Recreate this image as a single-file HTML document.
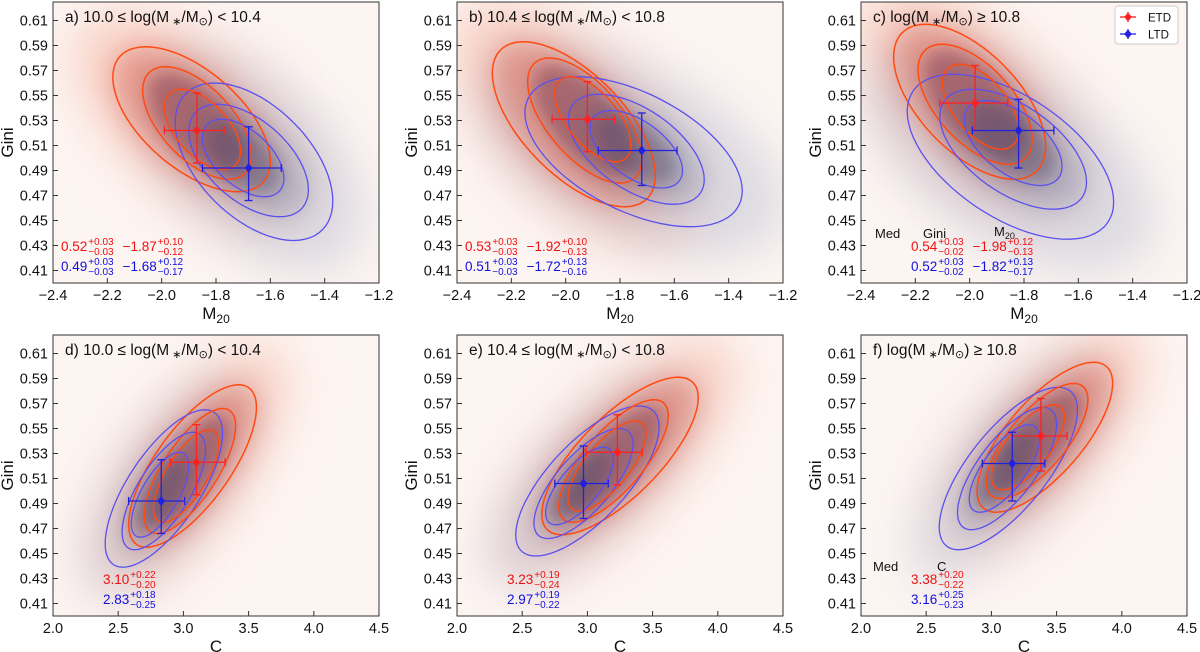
<!DOCTYPE html>
<html><head><meta charset="utf-8"><style>
body{margin:0;background:#fff;}
svg{display:block;font-family:"Liberation Sans","DejaVu Sans",sans-serif;}
</style></head><body>
<svg id="fig" width="1200" height="652" viewBox="0 0 1200 652" xmlns="http://www.w3.org/2000/svg">
<defs>
<filter id="b8" x="-50%" y="-50%" width="200%" height="200%"><feGaussianBlur stdDeviation="8"/></filter>
<filter id="b14" x="-50%" y="-50%" width="200%" height="200%"><feGaussianBlur stdDeviation="14"/></filter>
<filter id="b24" x="-80%" y="-80%" width="260%" height="260%"><feGaussianBlur stdDeviation="24"/></filter>
</defs>
</svg>
<script>
// ---- data ----
const panelLabels=["a) 10.0 ≤ log(M","b) 10.4 ≤ log(M","c) log(M","d) 10.0 ≤ log(M","e) 10.4 ≤ log(M","f) log(M"];
const panelSuffix=[") < 10.4",") < 10.8",") ≥ 10.8",") < 10.4",") < 10.8",") ≥ 10.8"];
const etdX=[-1.87,-1.92,-1.98,3.10,3.23,3.38];
const etdXlo=[0.12,0.13,0.13,0.20,0.24,0.22];
const etdXhi=[0.10,0.10,0.12,0.22,0.19,0.20];
const etdY=[0.522,0.531,0.544,0.523,0.531,0.544];
const etdYlo=[0.026,0.026,0.022,0.026,0.026,0.028];
const etdYhi=[0.030,0.030,0.030,0.030,0.030,0.030];
const ltdX=[-1.68,-1.72,-1.82,2.83,2.97,3.16];
const ltdXlo=[0.17,0.16,0.17,0.25,0.22,0.23];
const ltdXhi=[0.12,0.13,0.13,0.18,0.19,0.25];
const ltdY=[0.492,0.506,0.522,0.492,0.506,0.522];
const ltdYlo=[0.026,0.028,0.030,0.026,0.028,0.030];
const ltdYhi=[0.033,0.030,0.025,0.033,0.030,0.025];
// contours: [cx, cy, rx, ry, rho] for 3 levels
const etdContours=[
 [[-1.89,0.531,0.29,0.058,-0.58],[-1.87,0.528,0.20,0.045,-0.58],[-1.85,0.523,0.14,0.032,-0.55]],
 [[-1.97,0.527,0.30,0.066,-0.62],[-1.93,0.530,0.21,0.050,-0.62],[-1.90,0.531,0.14,0.034,-0.6]],
 [[-2.00,0.545,0.28,0.062,-0.58],[-1.98,0.543,0.21,0.048,-0.58],[-1.96,0.541,0.14,0.034,-0.55]],
 [[3.07,0.520,0.49,0.065,0.72],[3.05,0.516,0.35,0.050,0.72],[3.02,0.512,0.25,0.037,0.7]],
 [[3.25,0.528,0.60,0.063,0.74],[3.20,0.524,0.42,0.049,0.74],[3.15,0.520,0.30,0.036,0.72]],
 [[3.41,0.543,0.52,0.060,0.72],[3.35,0.540,0.39,0.046,0.72],[3.28,0.535,0.28,0.034,0.7]]
];
const ltdContours=[
 [[-1.66,0.497,0.29,0.063,-0.5],[-1.68,0.498,0.22,0.045,-0.52],[-1.70,0.500,0.15,0.031,-0.52]],
 [[-1.75,0.505,0.40,0.060,-0.52],[-1.74,0.507,0.25,0.044,-0.55],[-1.74,0.507,0.17,0.031,-0.55]],
 [[-1.85,0.501,0.38,0.066,-0.55],[-1.84,0.507,0.27,0.048,-0.55],[-1.84,0.512,0.18,0.034,-0.55]],
 [[2.85,0.502,0.45,0.063,0.70],[2.85,0.500,0.32,0.047,0.70],[2.82,0.497,0.22,0.034,0.68]],
 [[3.00,0.508,0.55,0.060,0.72],[2.97,0.506,0.38,0.044,0.72],[2.94,0.504,0.26,0.031,0.7]],
 [[3.13,0.518,0.53,0.065,0.72],[3.12,0.518,0.38,0.049,0.72],[3.10,0.518,0.27,0.035,0.7]]
];
const etdText=[["0.52","+0.03","−0.03","−1.87","+0.10","−0.12"],["0.53","+0.03","−0.03","−1.92","+0.10","−0.13"],["0.54","+0.03","−0.02","−1.98","+0.12","−0.13"],["3.10","+0.22","−0.20"],["3.23","+0.19","−0.24"],["3.38","+0.20","−0.22"]];
const ltdText=[["0.49","+0.03","−0.03","−1.68","+0.12","−0.17"],["0.51","+0.03","−0.03","−1.72","+0.13","−0.16"],["0.52","+0.03","−0.02","−1.82","+0.13","−0.17"],["2.83","+0.18","−0.25"],["2.97","+0.19","−0.22"],["3.16","+0.25","−0.23"]];
const yTicks=[0.41,0.43,0.45,0.47,0.49,0.51,0.53,0.55,0.57,0.59,0.61];
const xTicksTop=[-2.4,-2.2,-2.0,-1.8,-1.6,-1.4,-1.2];
const xTicksBot=[2.0,2.5,3.0,3.5,4.0,4.5];

// ---- layout ----
const NS="http://www.w3.org/2000/svg";
const svg=document.getElementById('fig');
const colX=[53,457,861], rowY=[2,335], W=326, H=281;
const yMin=0.40, yMax=0.6248;
function mk(tag,attrs,parent){const e=document.createElementNS(NS,tag);for(const k in attrs)e.setAttribute(k,attrs[k]);(parent||svg).appendChild(e);return e;}

for(let p=0;p<6;p++){
  const top=p<3, L=colX[p%3], T=rowY[top?0:1];
  const xMin=top?-2.4:2.0, xMax=top?-1.2:4.5;
  const sx=v=>L+(v-xMin)/(xMax-xMin)*W;
  const sy=v=>T+H-(v-yMin)/(yMax-yMin)*H;
  const g=mk('g',{});
  
  
  const cid='clip'+p;
  const cp=mk('clipPath',{id:cid},g); mk('rect',{x:L,y:T,width:W,height:H},cp);
  const bg=mk('rect',{x:L,y:T,width:W,height:H,fill:'#fdf5f2'},g);
  
  
  const dens=mk('g',{'clip-path':'url(#'+cid+')'},g);
  
  
  function path(c,scale){
    const [cx,cy,rx,ry,rho]=c; let d='';
    for(let i=0;i<=72;i++){const t=i/72*2*Math.PI;
      const x=cx+scale*rx*Math.cos(t), y=cy+scale*ry*(rho*Math.cos(t)+Math.sqrt(1-rho*rho)*Math.sin(t));
      d+=(i?'L':'M')+sx(x).toFixed(1)+','+sy(y).toFixed(1);}
    return d+'Z';
  }
  const E=etdContours[p], Lt=ltdContours[p];
  mk('path',{d:path(E[0],1.5),fill:'#f4ad98',opacity:0.5,filter:'url(#b24)'},dens);
  mk('path',{d:path(Lt[0],1.4),fill:'#b4b8cc',opacity:0.45,filter:'url(#b24)'},dens);
  mk('path',{d:path(E[0],1.0),fill:'#d86a5c',opacity:0.55,filter:'url(#b14)'},dens);
  mk('path',{d:path(Lt[1],1.0),fill:'#7880a0',opacity:0.4,filter:'url(#b14)'},dens);
  mk('path',{d:path(E[1],0.9),fill:'#7a3e52',opacity:0.5,filter:'url(#b8)'},dens);
  mk('path',{d:path(Lt[2],0.9),fill:'#4a4a6a',opacity:0.4,filter:'url(#b8)'},dens);
  for(let k=0;k<3;k++){
    const c1=mk('path',{d:path(E[k],1),fill:'none',stroke:'#ff4a10','stroke-width':1.5},dens);
    
    
    const c2=mk('path',{d:path(Lt[k],1),fill:'none',stroke:'#5a50f0','stroke-width':1.3},dens);
    
    
  }
  function eb(x,xlo,xhi,y,ylo,yhi,col,name){
    const e=mk('g',{stroke:col,'stroke-width':1.3,fill:col},g);
    
    
    const X=sx(x),Y=sy(y),x1=sx(x-xlo),x2=sx(x+xhi),y1=sy(y-ylo),y2=sy(y+yhi);
    mk('line',{x1:x1,y1:Y,x2:x2,y2:Y},e);mk('line',{x1:X,y1:y1,x2:X,y2:y2},e);
    mk('line',{x1:x1,y1:Y-4,x2:x1,y2:Y+4},e);mk('line',{x1:x2,y1:Y-4,x2:x2,y2:Y+4},e);
    mk('line',{x1:X-4,y1:y1,x2:X+4,y2:y1},e);mk('line',{x1:X-4,y1:y2,x2:X+4,y2:y2},e);
    mk('path',{d:`M${X},${Y-4}L${X+3},${Y}L${X},${Y+4}L${X-3},${Y}Z`},e);
  }
  eb(etdX[p],etdXlo[p],etdXhi[p],etdY[p],etdYlo[p],etdYhi[p],'#ff2020','etd-median');
  eb(ltdX[p],ltdXlo[p],ltdXhi[p],ltdY[p],ltdYlo[p],ltdYhi[p],'#2020e0','ltd-median');
  const fr=mk('rect',{x:L,y:T,width:W,height:H,fill:'none',stroke:'#333','stroke-width':1},g);
  
  
  // ticks
  yTicks.forEach(v=>{const y=sy(v);mk('line',{x1:L,y1:y,x2:L+5,y2:y,stroke:'#333'},g);
    const t=mk('text',{x:L-5,y:y+5,'text-anchor':'end','font-size':14.5,fill:'#111'},g);t.textContent=v.toFixed(2);
    
    });
  (top?xTicksTop:xTicksBot).forEach(v=>{const x=sx(v);mk('line',{x1:x,y1:T+H,x2:x,y2:T+H-5,stroke:'#333'},g);
    const t=mk('text',{x:x,y:T+H+17,'text-anchor':'middle','font-size':14.5,fill:'#111'},g);
    t.textContent=top?(v<0?'−':'')+Math.abs(v).toFixed(1):v.toFixed(1);
    
    });
  const yl=mk('text',{x:0,y:0,transform:`translate(${L-40},${T+H/2}) rotate(-90)`,'text-anchor':'middle','font-size':17,fill:'#111'},g);
  yl.textContent='Gini';
  
  
  const xl=mk('text',{x:L+W/2,y:T+H+36,'text-anchor':'middle','font-size':17,fill:'#111'},g);
  
  
  if(top){xl.textContent='M';const s=mk('tspan',{'font-size':12,dy:4},xl);s.textContent='20';}else xl.textContent='C';
  // title
  const ti=mk('text',{x:L+12,y:T+20,'font-size':15.5,fill:'#111'},g);
  
  
  ti.textContent=panelLabels[p];
  let s=mk('tspan',{'font-size':11,dy:3},ti);s.textContent=' ∗';
  s=mk('tspan',{dy:-3},ti);s.textContent='/M';
  s=mk('tspan',{'font-size':11,dy:3},ti);s.textContent='⊙';
  s=mk('tspan',{dy:-3},ti);s.textContent=panelSuffix[p];
  // annotations
  function stat(x,y,arr,col){
    const ag=mk('g',{fill:col},g);
    
    
    let cx=x;
    for(let i=0;i<arr.length;i+=3){
      const m=mk('text',{x:cx,y:y,'font-size':13.5},ag);m.textContent=arr[i];
      const w=m.getComputedTextLength();
      const a=mk('text',{x:cx+w+1,y:y-6,'font-size':10},ag);a.textContent=arr[i+1];
      const b=mk('text',{x:cx+w+1,y:y+4,'font-size':10},ag);b.textContent=arr[i+2];
      cx=cx+w+1+Math.max(a.getComputedTextLength(),b.getComputedTextLength())+9;
    }
  }
  const med=(p%3===2);
  if(top){
    const ax=med?L+50:L+8;
    if(med){const h=mk('text',{x:L+14,y:T+236,'font-size':13,fill:'#111'},g);h.textContent='Med';
      
      const h2=mk('text',{x:L+62,y:T+236,'font-size':13,fill:'#111'},g);h2.textContent='Gini';
      
      const h3=mk('text',{x:L+133,y:T+234,'font-size':13,fill:'#111'},g);h3.textContent='M';
      
      const t3=mk('tspan',{'font-size':9,dy:3},h3);t3.textContent='20';}
    stat(ax,T+249,etdText[p],'#ee1010');
    stat(ax,T+269,ltdText[p],'#1010dd');
  }else{
    const ax=L+50;
    if(med){const h=mk('text',{x:L+12,y:T+236,'font-size':13,fill:'#111'},g);h.textContent='Med';
      
      const h2=mk('text',{x:L+76,y:T+236,'font-size':13,fill:'#111'},g);h2.textContent='C';
      }
    stat(ax,T+249,etdText[p],'#ee1010');
    stat(ax,T+269,ltdText[p],'#1010dd');
  }
  if(p===2){
    const lg=mk('g',{},g);
    
    
    mk('rect',{x:1115,y:6,width:63,height:38,rx:3,fill:'#fff',stroke:'#ccc'},lg);
    [['ETD','#ff2020',17],['LTD','#2020e0',34]].forEach(([n,c,y])=>{
      const e=mk('g',{stroke:c,fill:c,'stroke-width':1.3},lg);
      
      
      mk('line',{x1:1120,y1:y,x2:1136,y2:y},e);mk('line',{x1:1128,y1:y-5,x2:1128,y2:y+5},e);
      mk('path',{d:`M1128,${y-3.5}L1131,${y}L1128,${y+3.5}L1125,${y}Z`},e);
      const t=mk('text',{x:1148,y:y+4.5,'font-size':11.5,fill:'#111',stroke:'none'},lg);t.textContent=n;
    });
  }
}
</script>
</body></html>
